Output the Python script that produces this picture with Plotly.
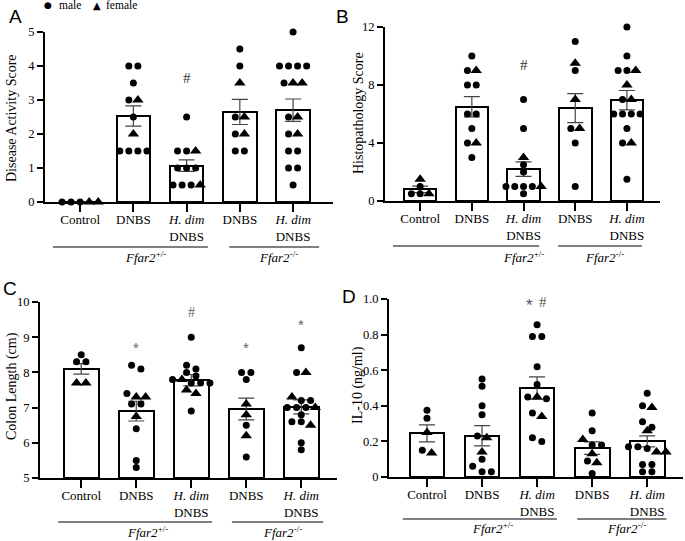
import plotly.graph_objects as go

# ---------------- data ----------------
categories = ["Control", "DNBS", "<i>H. dim</i><br>DNBS", "DNBS", "<i>H. dim</i><br>DNBS"]
genotype_labels = ["<i>Ffar2</i><sup>+/-</sup>", "<i>Ffar2</i><sup>-/-</sup>"]

# A: Disease Activity Score
dai_mean = [0, 2.53, 1.07, 2.65, 2.7]
dai_sem = [0, 0.30, 0.17, 0.37, 0.33]
dai_male = [[0, 0, 0],
            [4, 4, 3.5, 3, 2.5, 1.5, 1.5, 1.5, 1.5],
            [2.5, 1.5, 1.5, 1, 1, 1, 0.5, 0.5, 0.5],
            [4.5, 4, 2.5, 2, 1.5, 1.5],
            [5, 4, 4, 4, 4, 3.5, 2.5, 2, 1.5, 1.5, 1, 1, 0.5]]
dai_female = [[0, 0],
              [3, 2],
              [1.5, 0.5],
              [3.5, 2.5, 2],
              [3.5, 3.5, 2.5, 2]]

# B: Histopathology Score
histo_mean = [0.8, 6.5, 2.2, 6.4, 6.95]
histo_sem = [0.22, 0.7, 0.5, 1.0, 0.67]
histo_male = [[1.0, 0.5, 0.5],
              [10, 9, 8, 8, 6, 6, 5, 4, 3],
              [7, 5, 2.5, 2, 1, 1, 1, 1, 0.5],
              [11, 9, 5, 4, 1],
              [12, 10, 9, 9, 7, 6, 6, 6, 6, 5, 4, 1.5]]
histo_female = [[1.5, 0.5],
                [9, 4],
                [3, 1],
                [9.5, 7, 5],
                [9, 8, 7, 4]]

# C: Colon Length (cm)
colon_mean = [8.1, 6.9, 7.78, 6.96, 7.02]
colon_sem = [0.15, 0.28, 0.16, 0.31, 0.2]
colon_male = [[8.5, 8.3, 8.3],
              [8.2, 8.1, 7.4, 7.1, 7.1, 6.4, 5.5, 5.3],
              [9.0, 8.2, 8.1, 8.0, 7.9, 7.8, 7.7, 7.7, 7.7, 6.9],
              [8.0, 8.0, 7.8, 6.5, 5.6],
              [8.7, 8.0, 7.2, 7.2, 7.0, 7.0, 7.0, 6.8, 6.6, 6.6, 6.0, 5.8]]
colon_female = [[7.7, 7.7],
                [7.3, 7.3, 6.75],
                [7.8, 7.5, 7.4],
                [7.1, 6.8, 6.2],
                [8.0, 7.3, 7.0, 6.5]]

# D: IL-10 (ng/ml)
il10_mean = [0.245, 0.232, 0.5, 0.162, 0.2]
il10_sem = [0.048, 0.057, 0.063, 0.035, 0.031]
il10_male = [[0.375, 0.33, 0.15],
             [0.55, 0.51, 0.40, 0.35, 0.23, 0.10, 0.06, 0.03, 0.03],
             [0.855, 0.79, 0.79, 0.62, 0.52, 0.45, 0.44, 0.36, 0.22, 0.20],
             [0.36, 0.26, 0.18, 0.18, 0.09, 0.02],
             [0.47, 0.40, 0.31, 0.28, 0.17, 0.17, 0.16, 0.07, 0.07, 0.03, 0.03]]
il10_female = [[0.25, 0.135],
               [0.22, 0.14],
               [0.45, 0.34],
               [0.21, 0.13, 0.08],
               [0.39, 0.26, 0.14, 0.14]]

y_titles = ["Disease Activity Score", "Histopathology Score", "Colon Length (cm)", "IL-10 (ng/ml)"]

# ---------------- layout helpers ----------------
W, H = 685, 541
SERIF = "Liberation Serif, Times New Roman, serif"
SANS = "Liberation Sans, Arial, sans-serif"


def px_dom_x(a, b):
    return [a / W, b / W]


def px_dom_y(top, bottom):
    return [1 - bottom / H, 1 - top / H]


def swarm(male, female, tol, step=0.17):
    pts = [(v, "m") for v in male] + [(v, "f") for v in female]
    pts.sort(key=lambda p: -p[0])
    rows = []
    for p in pts:
        if rows and abs(rows[-1][0][0] - p[0]) <= tol:
            rows[-1].append(p)
        else:
            rows.append([p])
    out = {"m": ([], []), "f": ([], [])}
    for row in rows:
        n = len(row)
        for i, (v, s) in enumerate(row):
            out[s][0].append((i - (n - 1) / 2) * step)
            out[s][1].append(v)
    return out


panels = [
    dict(mean=dai_mean, sem=dai_sem, male=dai_male, female=dai_female,
         xdom=(45, 333), ydom=(32, 202), xr=[-0.66, 4.75], yr=[0, 5],
         yt=[0, 1, 2, 3, 4, 5], ytt=["0", "1", "2", "3", "4", "5"], tol=0.2,
         title_xy=(12, 118), letter=("A", 16, 17),
         lines=[(-0.51, 2.40), (2.80, 4.49)], line_y=247, lab_x=[1.22, 3.72], lab_y=257),
    dict(mean=histo_mean, sem=histo_sem, male=histo_male, female=histo_female,
         xdom=(385, 660), ydom=(27, 201), xr=[-0.68, 4.64], yr=[0, 12],
         yt=[0, 4, 8, 12], ytt=["0", "4", "8", "12"], tol=0.4,
         title_xy=(359, 113), letter=("B", 342, 17),
         lines=[(-0.525, 2.30), (2.67, 4.29)], line_y=246, lab_x=[1.99, 3.56], lab_y=257),
    dict(mean=colon_mean, sem=colon_sem, male=colon_male, female=colon_female,
         xdom=(40, 337), ydom=(302, 478), xr=[-0.75, 4.65], yr=[5, 10],
         yt=[5, 6, 7, 8, 9, 10], ytt=["5", "6", "7", "8", "9", "10"], tol=0.15,
         title_xy=(12, 386), letter=("C", 10, 288),
         lines=[(-0.42, 2.38), (2.74, 4.40)], line_y=522, lab_x=[1.20, 3.66], lab_y=532),
    dict(mean=il10_mean, sem=il10_sem, male=il10_male, female=il10_female,
         xdom=(389, 683), ydom=(299, 477), xr=[-0.69, 4.65], yr=[0, 1],
         yt=[0, 0.2, 0.4, 0.6, 0.8, 1.0], ytt=["0", "0.2", "0.4", "0.6", "0.8", "1.0"], tol=0.03,
         title_xy=(358, 385), letter=("D", 349, 296),
         lines=[(-0.44, 2.36), (2.73, 4.35)], line_y=519, lab_x=[1.19, 3.62], lab_y=528),
]

fig = go.Figure()
annotations = []
shapes = []
xpos = [0, 1, 2, 3, 4]


def ann(x, y, text, size, family, color="black", xref="paper", yref="paper",
        xanchor="center", angle=0):
    if xref == "paper":
        x = x / W
    if yref == "paper":
        y = 1 - y / H
    annotations.append(dict(x=x, y=y, xref=xref, yref=yref, text=text, showarrow=False,
                            xanchor=xanchor, yanchor="middle", textangle=angle,
                            font=dict(family=family, size=size, color=color)))


for k, p in enumerate(panels):
    xa = "x" if k == 0 else f"x{k+1}"
    ya = "y" if k == 0 else f"y{k+1}"
    base = p["yr"][0]
    fig.add_trace(go.Bar(
        x=xpos, y=[m - base for m in p["mean"]], base=base, width=0.63,
        marker=dict(color="white", line=dict(color="black", width=2)),
        error_y=dict(type="data", array=p["sem"], visible=True, color="#444",
                     thickness=1.2, width=8),
        xaxis=xa, yaxis=ya, showlegend=False, hoverinfo="skip"))
    mx, my, fx, fy = [], [], [], []
    for c in range(5):
        sw = swarm(p["male"][c], p["female"][c], p["tol"])
        mx += [c + o for o in sw["m"][0]]
        my += sw["m"][1]
        fx += [c + o for o in sw["f"][0]]
        fy += sw["f"][1]
    fig.add_trace(go.Scatter(x=mx, y=my, mode="markers", name="male",
                             marker=dict(symbol="circle", size=7, color="black"),
                             cliponaxis=False, xaxis=xa, yaxis=ya, showlegend=False))
    fig.add_trace(go.Scatter(x=fx, y=fy, mode="markers", name="female",
                             marker=dict(symbol="triangle-up", size=10, color="black"),
                             cliponaxis=False, xaxis=xa, yaxis=ya, showlegend=False))

    axx = dict(domain=px_dom_x(*p["xdom"]), range=p["xr"], anchor=ya, automargin=False,
               showline=True, linecolor="black", linewidth=2,
               ticks="outside", ticklen=8, tickwidth=1.5, tickcolor="black",
               ticklabelstandoff=-4,
               tickvals=xpos, ticktext=categories, showgrid=False, zeroline=False,
               tickfont=dict(family=SERIF, size=13, color="black"), fixedrange=True)
    axy = dict(domain=px_dom_y(*p["ydom"]), range=p["yr"], anchor=xa, automargin=False,
               showline=True, linecolor="black", linewidth=2,
               ticks="outside", ticklen=6, tickwidth=1.5, tickcolor="black",
               tickvals=p["yt"], ticktext=p["ytt"], showgrid=False, zeroline=False,
               tickfont=dict(family=SERIF, size=12.5, color="black"), fixedrange=True)
    fig.update_layout(**{("xaxis" if k == 0 else f"xaxis{k+1}"): axx,
                         ("yaxis" if k == 0 else f"yaxis{k+1}"): axy})

    tx, ty = p["title_xy"]
    ann(tx, ty, y_titles[k], 14, SERIF, angle=-90)
    L, lx, ly = p["letter"]
    ann(lx, ly, L, 19, SANS)
    for g in range(2):
        x0, x1 = p["lines"][g]
        shapes.append(dict(type="line", xref=xa, yref="paper", x0=x0, x1=x1,
                           y0=1 - p["line_y"] / H, y1=1 - p["line_y"] / H,
                           line=dict(color="black", width=1)))
        ann(p["lab_x"][g], p["lab_y"], genotype_labels[g], 13, SERIF, xref=xa)

# significance marks
for x in [1, 3, 4]:
    ann(x, 5.15, "<b>*</b>", 19, SANS, xref="x", yref="y")
    ann(x, 12.45, "<b>*</b>", 19, SANS, xref="x2", yref="y2")
ann(2, 3.65, "#", 15, SERIF, "#333", xref="x", yref="y")
ann(2, 9.36, "#", 15, SERIF, "#333", xref="x2", yref="y2")
ann(1, 8.7, "*", 15, SANS, "#666", xref="x3", yref="y3")
ann(2, 9.69, "#", 14, SERIF, "#666", xref="x3", yref="y3")
ann(3, 8.7, "*", 15, SANS, "#666", xref="x3", yref="y3")
ann(4, 9.36, "*", 15, SANS, "#666", xref="x3", yref="y3")
ann(1.87, 0.965, "*", 17, SANS, "#555", xref="x4", yref="y4")
ann(2.1, 0.985, "#", 15, SERIF, "#555", xref="x4", yref="y4")

# legend (text)
ann(48, 5, "●", 9, "DejaVu Sans")
ann(57, 5, "male", 11.5, SERIF, xanchor="left")
ann(97, 5, "▲", 10, "DejaVu Sans")
ann(104, 5, "female", 11.5, SERIF, xanchor="left")

fig.update_layout(template="none", width=W, height=H, margin=dict(l=0, r=0, t=0, b=0, pad=0),
                  paper_bgcolor="white", plot_bgcolor="white",
                  annotations=annotations, shapes=shapes, bargap=0,
                  showlegend=False)

fig.write_html("out.html", config={"displayModeBar": False},
               post_script="document.body.style.margin='0';")
